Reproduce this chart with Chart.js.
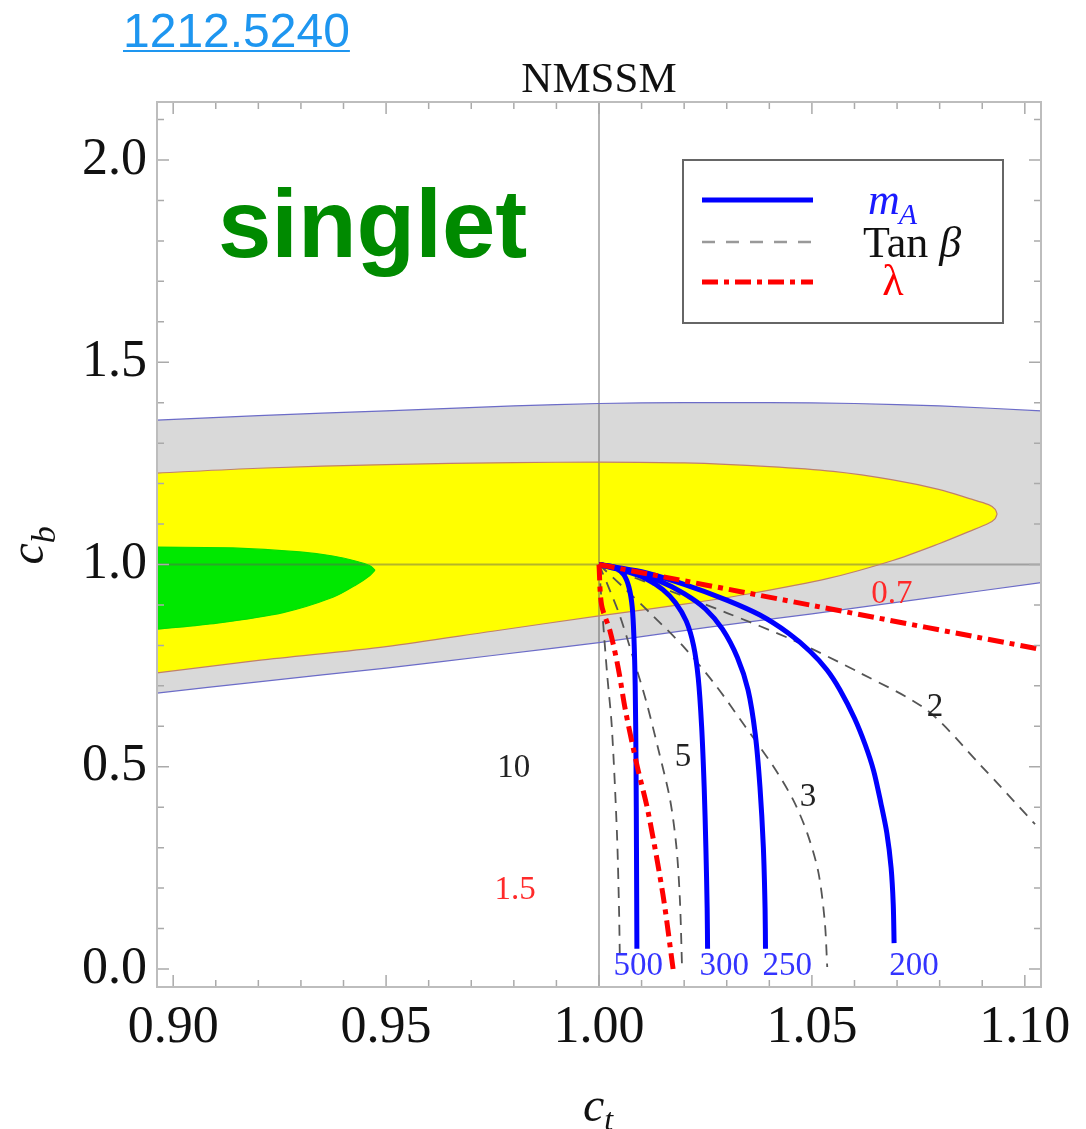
<!DOCTYPE html>
<html>
<head>
<meta charset="utf-8">
<script src="https://cdn.jsdelivr.net/npm/chart.js@4.4.0/dist/chart.umd.min.js"></script>
<style>
  body { margin: 0; background: #fff; }
  canvas { display: block; }
</style>
</head>
<body>
<canvas id="myChart" width="1086" height="1129"></canvas>
<script>
const xTicks = [0.90, 0.95, 1.00, 1.05, 1.10];
const yTicks = [0.0, 0.5, 1.0, 1.5, 2.0];
const xRange = [0.8962, 1.1038];
const yRange = [-0.0445, 2.1434];

// fit regions in the (c_t, c_b) plane
const grayUpper = [[0.8962,1.357],[0.92,1.368],[0.95,1.380],[0.98,1.392],[1.00,1.398],[1.02,1.400],[1.04,1.400],[1.06,1.398],[1.08,1.392],[1.1038,1.380]];
const grayLower = [[0.8962,0.682],[0.92,0.710],[0.95,0.744],[0.975,0.775],[1.00,0.807],[1.025,0.844],[1.05,0.878],[1.075,0.914],[1.1038,0.955]];
const yellowUpper = [[0.8962,1.226],[0.92,1.238],[0.95,1.247],[0.98,1.252],[1.00,1.253],[1.02,1.251],[1.04,1.242],[1.055,1.230],[1.069,1.209],[1.0800,1.185],[1.0870,1.163],[1.0915,1.148],[1.0930,1.137],[1.0935,1.125]];
const yellowLower = [[0.8962,0.732],[0.92,0.763],[0.95,0.797],[0.975,0.835],[1.00,0.873],[1.02,0.902],[1.035,0.927],[1.0536,0.965],[1.069,1.010],[1.0800,1.052],[1.0870,1.082],[1.0915,1.102],[1.0930,1.113],[1.0935,1.125]];
const greenUpper = [[0.8962,1.043],[0.914,1.041],[0.9298,1.031],[0.9375,1.021],[0.9430,1.008],[0.9462,0.997],[0.9474,0.986]];
const greenLower = [[0.8962,0.840],[0.9103,0.855],[0.9258,0.881],[0.9375,0.919],[0.9430,0.950],[0.9462,0.973],[0.9474,0.986]];

// m_A contours
const mANames = ['500', '300', '250', '200'];
const mA500 = [[1,1],[1.0038,0.993],[1.0058,0.975],[1.0070,0.945],[1.0078,0.895],[1.0082,0.82],[1.0085,0.70],[1.0087,0.50],[1.0088,0.30],[1.0089,0.05]];
const mA300 = [[1,1],[1.006,0.984],[1.011,0.965],[1.015,0.938],[1.018,0.905],[1.0205,0.860],[1.0222,0.800],[1.0233,0.720],[1.0241,0.600],[1.0247,0.450],[1.0251,0.300],[1.0254,0.150],[1.0255,0.05]];
const mA250 = [[1,1],[1.007,0.984],[1.014,0.960],[1.020,0.928],[1.025,0.890],[1.029,0.840],[1.0325,0.770],[1.035,0.690],[1.0367,0.580],[1.0378,0.450],[1.0386,0.300],[1.0390,0.150],[1.0391,0.05]];
const mA200 = [[1,1],[1.010,0.982],[1.020,0.951],[1.030,0.912],[1.0378,0.875],[1.0445,0.830],[1.0496,0.785],[1.0535,0.740],[1.0566,0.690],[1.0600,0.620],[1.0625,0.555],[1.0645,0.490],[1.0662,0.410],[1.0676,0.336],[1.0686,0.250],[1.0691,0.160],[1.0693,0.064]];

// tan beta contours
const tanBetaNames = ['2', '3', '5', '10'];
const tb2 = [[1,1],[1.0143,0.944],[1.0301,0.880],[1.0456,0.813],[1.0613,0.732],[1.0770,0.640],[1.0895,0.505],[1.1024,0.358]];
const tb3 = [[1,1],[1.0066,0.935],[1.0125,0.875],[1.0200,0.795],[1.0275,0.700],[1.0343,0.600],[1.0410,0.500],[1.0456,0.418],[1.0489,0.336],[1.0515,0.240],[1.0530,0.120],[1.0536,0.005]];
const tb5 = [[1,1],[1.0026,0.935],[1.0050,0.870],[1.0080,0.770],[1.0110,0.665],[1.0140,0.540],[1.0167,0.418],[1.0182,0.300],[1.0190,0.171],[1.0195,0.005]];
const tb10 = [[1,1],[1.0008,0.88],[1.0019,0.73],[1.0030,0.60],[1.0042,0.34],[1.0047,0.15],[1.0049,0.022]];

// lambda contours
const lambdaNames = ['0.7', '1.5'];
const lam07 = [[1,1],[1.05,0.899],[1.1038,0.79]];
const lam15 = [[1,1],[1.0006,0.90],[1.0026,0.835],[1.0045,0.745],[1.0062,0.640],[1.0090,0.50],[1.0115,0.390],[1.0150,0.185],[1.0174,0.0]];

// where the contour labels sit (c_t, c_b)
const mALabelPos = [[1.0092,0.007],[1.0294,0.007],[1.0442,0.007],[1.0740,0.007]];
const tanBetaLabelPos = [[1.0789,0.648],[1.0491,0.425],[1.0197,0.524],[0.9800,0.497]];
const lambdaLabelPos = [[1.0688,0.927],[0.9803,0.195]];
const singletPos = [0.9105, 1.760];

const serif = '"Liberation Serif", "Times New Roman", serif';
const sans = '"Liberation Sans", Arial, sans-serif';
const redDash = [16, 6, 5, 6];
const grayDash = [11, 8];

const toPts = arr => arr.map(p => ({x: p[0], y: p[1]}));

function curve(data, color, width, dash) {
  return {
    data: toPts(data), showLine: true, borderColor: color, borderWidth: width,
    borderDash: dash || [], pointRadius: 0, tension: 0.3, fill: false
  };
}
function region(data, line, color, target) {
  return {
    data: toPts(data), showLine: true, borderColor: line, borderWidth: 1.2,
    pointRadius: 0, tension: 0.3, fill: target, backgroundColor: color
  };
}

const frame = {
  id: 'frame',
  beforeDatasetsDraw(chart) {
    const {ctx, chartArea: a, scales: {x, y}} = chart;
    ctx.save();
    ctx.strokeStyle = 'rgba(90,90,90,0.45)';
    ctx.lineWidth = 2;
    ctx.beginPath();
    const px = x.getPixelForValue(1), py = y.getPixelForValue(1);
    ctx.moveTo(px, a.top); ctx.lineTo(px, a.bottom);
    ctx.moveTo(a.left, py); ctx.lineTo(a.right, py);
    ctx.stroke();
    ctx.restore();
  },
  afterDatasetsDraw(chart) {
    const {ctx, chartArea: a, scales: {x, y}} = chart;
    ctx.save();
    ctx.strokeStyle = '#aaa';
    ctx.lineWidth = 1.5;
    ctx.beginPath();
    for (let i = 90; i <= 110; i++) {
      const p = x.getPixelForValue(i / 100);
      const len = i % 5 === 0 ? 12 : 7;
      ctx.moveTo(p, a.bottom); ctx.lineTo(p, a.bottom - len);
      ctx.moveTo(p, a.top); ctx.lineTo(p, a.top + len);
    }
    for (let i = 0; i <= 21; i++) {
      const p = y.getPixelForValue(i / 10);
      const len = i % 5 === 0 ? 12 : 7;
      ctx.moveTo(a.left, p); ctx.lineTo(a.left + len, p);
      ctx.moveTo(a.right, p); ctx.lineTo(a.right - len, p);
    }
    ctx.stroke();
    ctx.strokeStyle = '#bdbdbd';
    ctx.lineWidth = 2;
    ctx.strokeRect(a.left, a.top, a.right - a.left, a.bottom - a.top);
    ctx.restore();
  },
  afterDraw(chart) {
    const {ctx, chartArea: a, scales: {x, y}} = chart;
    const X = v => x.getPixelForValue(v), Y = v => y.getPixelForValue(v);
    ctx.save();
    // link
    ctx.font = '48px ' + sans;
    ctx.fillStyle = '#1e96f0';
    ctx.textAlign = 'left';
    ctx.textBaseline = 'alphabetic';
    ctx.fillText('1212.5240', 123, 47);
    ctx.fillRect(123, 50, ctx.measureText('1212.5240').width, 2);
    // title
    ctx.font = '43px ' + serif;
    ctx.fillStyle = '#111';
    ctx.textAlign = 'center';
    ctx.fillText('NMSSM', (a.left + a.right) / 2, a.top - 10);
    // region name
    ctx.font = 'bold 96px ' + sans;
    ctx.fillStyle = '#008a00';
    ctx.textAlign = 'left';
    ctx.fillText('singlet', X(singletPos[0]), Y(singletPos[1]));
    // axis titles
    ctx.fillStyle = '#111';
    ctx.font = 'italic 48px ' + serif;
    const cx = (a.left + a.right) / 2 - 16;
    ctx.fillText('c', cx, 1121);
    const cw = ctx.measureText('c').width;
    ctx.font = 'italic 32px ' + serif;
    ctx.fillText('t', cx + cw, 1130);
    ctx.translate(43, (a.top + a.bottom) / 2);
    ctx.rotate(-Math.PI / 2);
    ctx.font = 'italic 48px ' + serif;
    ctx.fillText('c', -20, 0);
    ctx.font = 'italic 34px ' + serif;
    ctx.fillText('b', -20 + cw, 12);
    ctx.setTransform(1, 0, 0, 1, 0, 0);
    // contour labels
    ctx.textAlign = 'center';
    ctx.textBaseline = 'middle';
    ctx.font = '33px ' + serif;
    ctx.fillStyle = '#3434ff';
    mANames.forEach((t, i) => ctx.fillText(t, X(mALabelPos[i][0]), Y(mALabelPos[i][1])));
    ctx.fillStyle = '#222';
    tanBetaNames.forEach((t, i) => ctx.fillText(t, X(tanBetaLabelPos[i][0]), Y(tanBetaLabelPos[i][1])));
    ctx.fillStyle = '#ff2a2a';
    lambdaNames.forEach((t, i) => ctx.fillText(t, X(lambdaLabelPos[i][0]), Y(lambdaLabelPos[i][1])));
    // legend
    const lx = a.left + 526, ly = a.top + 58;
    ctx.fillStyle = '#fff';
    ctx.fillRect(lx, ly, 320, 163);
    ctx.strokeStyle = '#666';
    ctx.lineWidth = 2;
    ctx.strokeRect(lx, ly, 320, 163);
    const rows = [
      {dy: 40, color: '#0000ff', w: 5, dash: []},
      {dy: 82, color: '#999', w: 2.5, dash: [13, 11]},
      {dy: 122, color: '#ff0000', w: 5, dash: redDash}
    ];
    rows.forEach(r => {
      ctx.beginPath();
      ctx.strokeStyle = r.color;
      ctx.lineWidth = r.w;
      ctx.setLineDash(r.dash);
      ctx.moveTo(lx + 19, ly + r.dy);
      ctx.lineTo(lx + 130, ly + r.dy);
      ctx.stroke();
    });
    ctx.setLineDash([]);
    ctx.textAlign = 'left';
    ctx.textBaseline = 'alphabetic';
    ctx.fillStyle = '#1a1aff';
    ctx.font = 'italic 44px ' + serif;
    ctx.fillText('m', lx + 185, ly + 54);
    const mw = ctx.measureText('m').width;
    ctx.font = 'italic 30px ' + serif;
    ctx.fillText('A', lx + 184 + mw, ly + 64);
    ctx.fillStyle = '#111';
    ctx.font = '44px ' + serif;
    ctx.fillText('Tan ', lx + 180, ly + 97);
    const tw = ctx.measureText('Tan ').width;
    ctx.font = 'italic 44px ' + serif;
    ctx.fillText('\u03b2', lx + 180 + tw, ly + 97);
    ctx.fillStyle = '#ff0000';
    ctx.textAlign = 'center';
    ctx.font = '44px ' + serif;
    ctx.fillText('\u03bb', lx + 210, ly + 135);
    ctx.restore();
  }
};

const ctx = document.getElementById('myChart').getContext('2d');
const myChart = new Chart(ctx, {
  type: 'scatter',
  data: {
    datasets: [
      curve(lam07, '#ff0000', 5, redDash),
      curve(lam15, '#ff0000', 5, redDash),
      curve(mA500, '#0000ff', 5),
      curve(mA300, '#0000ff', 5),
      curve(mA250, '#0000ff', 5),
      curve(mA200, '#0000ff', 5),
      curve(tb2, '#555', 1.8, grayDash),
      curve(tb3, '#555', 1.8, grayDash),
      curve(tb5, '#555', 1.8, grayDash),
      curve(tb10, '#555', 1.8, grayDash),
      region(greenUpper, '#00e000', '#00e800', '+1'),
      region(greenLower, '#00e000', '#00e800', false),
      region(yellowUpper, '#c0806a', '#ffff00', '+1'),
      region(yellowLower, '#c0806a', '#ffff00', false),
      region(grayUpper, '#6c6cc8', '#d9d9d9', '+1'),
      region(grayLower, '#6c6cc8', '#d9d9d9', false)
    ]
  },
  options: {
    responsive: false,
    animation: false,
    events: [],
    devicePixelRatio: 1,
    layout: { padding: { top: 102, right: 45, left: 0, bottom: 0 } },
    plugins: {
      legend: { display: false },
      tooltip: { enabled: false },
      filler: { drawTime: 'beforeDatasetsDraw' }
    },
    scales: {
      x: {
        type: 'linear', min: xRange[0], max: xRange[1],
        afterBuildTicks: s => { s.ticks = xTicks.map(v => ({value: v})); },
        afterFit: s => { s.height = 142; },
        grid: { display: false, drawTicks: false },
        border: { display: false },
        ticks: {
          font: { family: serif, size: 52 }, color: '#111', padding: 10,
          maxRotation: 0, autoSkip: false, callback: v => v.toFixed(2)
        }
      },
      y: {
        type: 'linear', min: yRange[0], max: yRange[1],
        afterBuildTicks: s => { s.ticks = yTicks.map(v => ({value: v})); },
        afterFit: s => { s.width = 157; },
        grid: { display: false, drawTicks: false },
        border: { display: false },
        ticks: {
          font: { family: serif, size: 52 }, color: '#111', padding: 10,
          autoSkip: false, callback: v => v.toFixed(1)
        }
      }
    }
  },
  plugins: [frame]
});
</script>
</body>
</html>
